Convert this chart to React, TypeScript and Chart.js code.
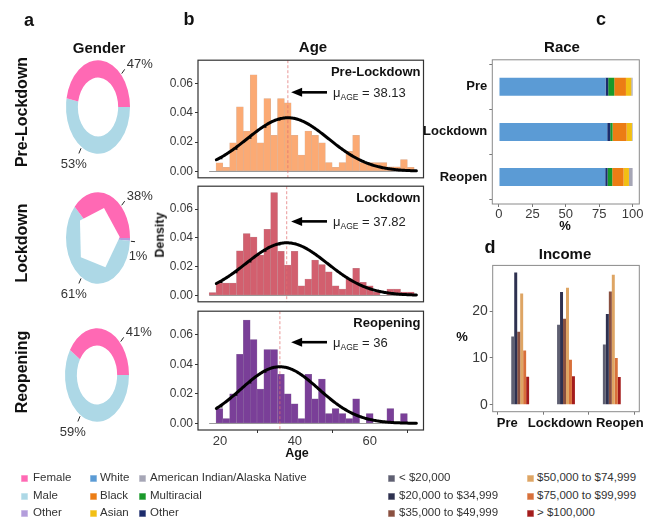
import React, { useEffect, useRef } from 'react';
import { Chart, registerables } from 'chart.js';

Chart.register(...registerables);

const FONT = '"Liberation Sans", Arial, Helvetica, sans-serif';
const TICK_COLOR = '#3a3a3a';

// ---------- Gender (panel a) ----------
// slices are laid clockwise from 3 o'clock in this order
const GENDER_LABELS = ['Other', 'Male', 'Female'];
const GENDER_COLORS = ['#b39ddb', '#add8e6', '#ff69b4'];
const GENDER_PRE = [0, 53, 47];
const GENDER_LOCKDOWN = [1, 61, 38];
const GENDER_REOPEN = [0, 59, 41];
// callout direction for each share (degrees, counter-clockwise from 3 o'clock)
const GENDER_CALLOUT_ANGLE: Record<string, number> = { Female: 44, Male: 239, Other: -4 };

// ---------- Age (panel b) ----------
const AGE_BIN_CENTERS = [
  18.0, 19.83, 21.66, 23.48, 25.31, 27.14, 28.97, 30.79, 32.62, 34.45,
  36.28, 38.1, 39.93, 41.76, 43.59, 45.41, 47.24, 49.07, 50.9, 52.72,
  54.55, 56.38, 58.21, 60.03, 61.86, 63.69, 65.52, 67.34, 69.17, 71.0,
];
const AGE_DENSITY_PRE = [
  0, 0.0057, 0.0026, 0.0195, 0.044, 0.0274, 0.066, 0.0195, 0.0497, 0.0245,
  0.0497, 0.0468, 0.0245, 0.011, 0.0274, 0.0245, 0.0195, 0.006, 0.0026, 0.006,
  0.0136, 0.0245, 0.006, 0.006, 0.006, 0.006, 0.003, 0.003, 0.008, 0.0026,
];
const AGE_DENSITY_LOCKDOWN = [
  0.002, 0.0085, 0.0085, 0.0085, 0.031, 0.043, 0.0405, 0.028, 0.046, 0.0716,
  0.0307, 0.021, 0.0307, 0.0066, 0.0114, 0.0245, 0.0215, 0.0164, 0.0066, 0.0044,
  0.0114, 0.0188, 0.009, 0.0066, 0.0022, 0, 0.0044, 0.0044, 0.0022, 0.0022,
];
const AGE_DENSITY_REOPEN = [
  0, 0.01, 0.0033, 0.02, 0.0467, 0.07, 0.0567, 0.0233, 0.05, 0.05,
  0.0333, 0.02, 0.0133, 0.0033, 0.0333, 0.0167, 0.03, 0.0067, 0.01, 0.0067,
  0.0033, 0.0167, 0, 0.0067, 0, 0, 0.01, 0, 0.0067, 0,
];
const AGE_MEAN_PRE = 38.13;
const AGE_MEAN_LOCKDOWN = 37.82;
const AGE_MEAN_REOPEN = 36;
const AGE_SD_PRE = 10.9;
const AGE_SD_LOCKDOWN = 10.9;
const AGE_SD_REOPEN = 10.4;
const AGE_TICKS = [20, 40, 60];
const DENSITY_TICKS = [0, 0.02, 0.04, 0.06];
const CURVE_FROM = 19;
const CURVE_TO = 72.5;
const ARROW_TAIL_AGE = 48.6;
const ARROW_TIP_AGE = 39;

// ---------- Race (panel c) ----------
const PERIODS = ['Pre', 'Lockdown', 'Reopen'];
const RACE_WHITE = [79.75, 81, 79.5];
const RACE_OTHER = [2, 2.25, 1.75];
const RACE_MULTIRACIAL = [4.5, 1.75, 3.5];
const RACE_BLACK = [8.75, 10.5, 8.5];
const RACE_ASIAN = [4, 4, 4];
const RACE_AIAN = [1, 0.5, 2.75];
const RACE_TICKS = [0, 25, 50, 75, 100];
const RACE_COLORS = {
  white: '#5b9bd5', black: '#ec7d14', asian: '#f2bf14',
  aian: '#a6a6b6', multi: '#19992a', other: '#1c2c6c',
};

// ---------- Income (panel d) ----------
const INCOME_BRACKETS = [
  '< $20,000', '$20,000 to $34,999', '$35,000 to $49,999',
  '$50,000 to $74,999', '$75,000 to $99,999', '> $100,000',
];
const INCOME_COLORS = ['#5f6072', '#2e3150', '#8a5040', '#dea564', '#d8703a', '#a41c1c'];
const INCOME_PRE = [14.6, 28.3, 15.6, 23.8, 11.6, 6.0];
const INCOME_LOCKDOWN = [17.1, 24.1, 18.4, 25.0, 9.6, 6.1];
const INCOME_REOPEN = [12.9, 19.4, 24.2, 27.8, 10.0, 5.9];
const INCOME_TICKS = [0, 10, 20];
// horizontal nudge (px) of each period name under its bar group
const INCOME_LABEL_NUDGE = [-13, -6, 8];

// ---------- helpers ----------
const normalPdf = (x: number, m: number, s: number) =>
  Math.exp(-((x - m) ** 2) / (2 * s * s)) / (s * Math.sqrt(2 * Math.PI));

const fixedTicks = (values: number[]) => (scale: any) => {
  scale.ticks = values.map((value) => ({ value }));
};

function ChartCanvas(props: { left: number; top: number; width: number; height: number; build: () => any }) {
  const ref = useRef<HTMLCanvasElement | null>(null);
  useEffect(() => {
    if (!ref.current) return;
    const chart = new Chart(ref.current, props.build());
    return () => chart.destroy();
  }, []);
  const { left, top, width, height } = props;
  return (
    <canvas
      ref={ref}
      width={width}
      height={height}
      style={{ position: 'absolute', left, top, width, height }}
    />
  );
}

// ---------- doughnut plugins ----------
// stretches the ring vertically; optionally cuts a coarse polygonal hole
const ellipseRing = {
  id: 'ellipseRing',
  beforeDatasetsDraw(chart: any, _a: any, o: any) {
    const arc = chart.getDatasetMeta(0).data[0];
    const ctx = chart.ctx;
    ctx.save();
    ctx.translate(arc.x, arc.y);
    ctx.scale(1, o.stretch);
    ctx.translate(-arc.x, -arc.y);
  },
  afterDatasetsDraw(chart: any, _a: any, o: any) {
    const ctx = chart.ctx;
    if (o.holeSides) {
      const arc = chart.getDatasetMeta(0).data[0];
      const r = arc.outerRadius * o.holeRadius;
      ctx.fillStyle = '#fff';
      ctx.beginPath();
      for (let k = 0; k < o.holeSides; k++) {
        const a = ((o.holeStart + (360 / o.holeSides) * k) * Math.PI) / 180;
        const x = arc.x + Math.cos(a) * r;
        const y = arc.y - Math.sin(a) * r;
        if (k === 0) ctx.moveTo(x, y);
        else ctx.lineTo(x, y);
      }
      ctx.closePath();
      ctx.fill();
    }
    ctx.restore();
  },
};

const genderCallouts = {
  id: 'genderCallouts',
  afterDraw(chart: any, _a: any, o: any) {
    const ctx = chart.ctx;
    const arc = chart.getDatasetMeta(0).data[0];
    const values = chart.data.datasets[0].data as number[];
    const R = arc.outerRadius;
    ctx.save();
    ctx.font = `13px ${FONT}`;
    ctx.fillStyle = '#333';
    ctx.strokeStyle = '#222';
    ctx.lineWidth = 1;
    (chart.data.labels as string[]).forEach((name, i) => {
      const v = values[i];
      if (!v) return;
      const a = (GENDER_CALLOUT_ANGLE[name] * Math.PI) / 180;
      const px = (r: number) => arc.x + Math.cos(a) * R * r;
      const py = (r: number) => arc.y - Math.sin(a) * R * r * o.stretch;
      ctx.beginPath();
      ctx.moveTo(px(1.03), py(1.03));
      ctx.lineTo(px(1.16), py(1.16));
      ctx.stroke();
      const ex = px(1.16);
      const ey = py(1.16);
      const txt = `${v}%`;
      if (name === 'Female') {
        ctx.textAlign = 'left';
        ctx.textBaseline = 'middle';
        ctx.fillText(txt, ex + 2, ey - 5);
      } else if (name === 'Male') {
        ctx.textAlign = 'center';
        ctx.textBaseline = 'top';
        ctx.fillText(txt, ex - 5, ey + 4);
      } else {
        ctx.textAlign = 'center';
        ctx.textBaseline = 'top';
        ctx.fillText(txt, ex + 3, ey + 8);
      }
    });
    ctx.restore();
  },
};

const genderConfig = (values: number[], polygonHole = false) => () => ({
  type: 'doughnut',
  data: {
    labels: GENDER_LABELS,
    datasets: [{ data: values, backgroundColor: GENDER_COLORS, borderWidth: 0 }],
  },
  options: {
    animation: false,
    responsive: false,
    rotation: 90,
    radius: 32,
    cutout: polygonHole ? 0 : '63%',
    layout: { padding: 0 },
    plugins: {
      legend: { display: false },
      tooltip: { enabled: false },
      ellipseRing: polygonHole
        ? { stretch: 1.43, holeSides: 5, holeStart: 2, holeRadius: 0.68 }
        : { stretch: 1.46 },
      genderCallouts: { stretch: polygonHole ? 1.43 : 1.46 },
    },
  },
  plugins: [ellipseRing, genderCallouts],
});

// ---------- histogram plugin ----------
const histDecor = {
  id: 'histDecor',
  beforeDatasetsDraw(chart: any) {
    const ctx = chart.ctx;
    const xs = chart.scales.x;
    const ys = chart.scales.y;
    const half = (AGE_BIN_CENTERS[1] - AGE_BIN_CENTERS[0]) / 2;
    const y0 = Math.round(ys.getPixelForValue(0)) + 0.5;
    ctx.save();
    ctx.strokeStyle = '#9a9a9a';
    ctx.lineWidth = 1;
    ctx.beginPath();
    ctx.moveTo(xs.getPixelForValue(AGE_BIN_CENTERS[0] - half), y0);
    ctx.lineTo(xs.getPixelForValue(AGE_BIN_CENTERS[AGE_BIN_CENTERS.length - 1] + half), y0);
    ctx.stroke();
    ctx.restore();
  },
  beforeDatasetDraw(chart: any, args: any, o: any) {
    if (args.index !== 0) return;
    // dashed mean line sits above the bars, beneath the fitted curve
    const ctx = chart.ctx;
    const ca = chart.chartArea;
    const mx = chart.scales.x.getPixelForValue(o.mean);
    ctx.save();
    ctx.strokeStyle = 'rgba(225, 110, 110, 0.9)';
    ctx.lineWidth = 0.8;
    ctx.setLineDash([3, 2]);
    ctx.beginPath();
    ctx.moveTo(mx, ca.top);
    ctx.lineTo(mx, ca.bottom);
    ctx.stroke();
    ctx.restore();
  },
  afterDraw(chart: any, _a: any, o: any) {
    const ctx = chart.ctx;
    const ca = chart.chartArea;
    const xs = chart.scales.x;
    const ys = chart.scales.y;
    ctx.save();
    ctx.strokeStyle = '#333';
    ctx.lineWidth = 1.2;
    ctx.strokeRect(ca.left, ca.top, ca.right - ca.left, ca.bottom - ca.top);

    ctx.fillStyle = '#111';
    ctx.font = `bold 13px ${FONT}`;
    ctx.textAlign = 'right';
    ctx.textBaseline = 'top';
    ctx.fillText(o.title, ca.right - 3, ca.top + 6);

    const ay = ys.getPixelForValue(o.arrowY);
    const tail = xs.getPixelForValue(ARROW_TAIL_AGE);
    const tip = xs.getPixelForValue(ARROW_TIP_AGE);
    ctx.strokeStyle = '#000';
    ctx.fillStyle = '#000';
    ctx.lineWidth = 2.6;
    ctx.beginPath();
    ctx.moveTo(tail, ay);
    ctx.lineTo(tip + 8, ay);
    ctx.stroke();
    ctx.beginPath();
    ctx.moveTo(tip, ay);
    ctx.lineTo(tip + 11, ay - 4.5);
    ctx.lineTo(tip + 11, ay + 4.5);
    ctx.closePath();
    ctx.fill();

    let tx = tail + 6;
    ctx.fillStyle = '#222';
    ctx.textAlign = 'left';
    ctx.textBaseline = 'alphabetic';
    ctx.font = `13px ${FONT}`;
    ctx.fillText('\u03bc', tx, ay + 4.5);
    tx += ctx.measureText('\u03bc').width;
    ctx.font = `8.5px ${FONT}`;
    ctx.fillText('AGE', tx, ay + 7.5);
    tx += ctx.measureText('AGE').width;
    ctx.font = `13px ${FONT}`;
    ctx.fillText(` = ${o.mean}`, tx, ay + 4.5);
    ctx.restore();
  },
};

type HistSpec = {
  density: number[];
  color: string;
  edge: string;
  mean: number;
  sd: number;
  title: string;
  arrowY: number;
  showX: boolean;
};

const histConfig = (p: HistSpec) => () => {
  const curve: { x: number; y: number }[] = [];
  for (let x = CURVE_FROM; x <= CURVE_TO + 1e-9; x += 0.25) {
    curve.push({ x, y: normalPdf(x, p.mean, p.sd) });
  }
  return {
    type: 'bar',
    data: {
      datasets: [
        {
          type: 'line',
          data: curve,
          borderColor: '#000',
          borderWidth: 3,
          pointRadius: 0,
          tension: 0,
          borderCapStyle: 'round',
        },
        {
          type: 'bar',
          data: AGE_BIN_CENTERS.map((x, i) => ({ x, y: p.density[i] })),
          backgroundColor: p.color,
          borderColor: p.edge,
          borderWidth: 0.5,
          borderSkipped: false,
          barPercentage: 1,
          categoryPercentage: 1,
        },
      ],
    },
    options: {
      animation: false,
      responsive: false,
      layout: { padding: { left: 0, right: 6.5, top: 6, bottom: p.showX ? 0 : 6 } },
      plugins: {
        legend: { display: false },
        tooltip: { enabled: false },
        histDecor: { title: p.title, mean: p.mean, arrowY: p.arrowY },
      },
      scales: {
        x: {
          type: 'linear',
          min: 14.1,
          max: 74.4,
          offset: false,
          grid: { display: p.showX, drawOnChartArea: false, tickLength: 3, color: '#333' },
          border: { display: false },
          ticks: { display: p.showX, color: TICK_COLOR, font: { family: FONT, size: 13 }, padding: 1 },
          afterBuildTicks: fixedTicks(AGE_TICKS),
          afterFit: (s: any) => { s.height = p.showX ? 22 : 0; },
        },
        y: {
          type: 'linear',
          min: -0.0045,
          max: 0.076,
          grid: { drawOnChartArea: false, tickLength: 3, color: '#333' },
          border: { display: false },
          ticks: {
            color: TICK_COLOR,
            font: { family: FONT, size: 12 },
            padding: 2,
            callback: (v: any) => Number(v).toFixed(2),
          },
          afterBuildTicks: fixedTicks(DENSITY_TICKS),
          afterFit: (s: any) => { s.width = 48; },
        },
      },
    },
    plugins: [histDecor],
  };
};

// ---------- frame for panels c and d ----------
const grayFrame = {
  id: 'grayFrame',
  afterDraw(chart: any, _a: any, o: any) {
    const ctx = chart.ctx;
    const ca = chart.chartArea;
    ctx.save();
    ctx.strokeStyle = '#8a8a8a';
    ctx.lineWidth = 1;
    ctx.strokeRect(ca.left, ca.top, ca.right - ca.left, ca.bottom - ca.top);
    if (o.periodLabels) {
      // period names under the income groups
      const xs = chart.scales.x;
      ctx.fillStyle = '#111';
      ctx.font = `bold 13px ${FONT}`;
      ctx.textAlign = 'center';
      ctx.textBaseline = 'top';
      PERIODS.forEach((name, i) => {
        ctx.fillText(name, xs.getPixelForValue(i + 1) + INCOME_LABEL_NUDGE[i], ca.bottom + 5);
      });
    }
    ctx.restore();
  },
};

const raceConfig = () => {
  const series = [
    { label: 'White', values: RACE_WHITE, color: RACE_COLORS.white },
    { label: 'Other', values: RACE_OTHER, color: RACE_COLORS.other },
    { label: 'Multiracial', values: RACE_MULTIRACIAL, color: RACE_COLORS.multi },
    { label: 'Black', values: RACE_BLACK, color: RACE_COLORS.black },
    { label: 'Asian', values: RACE_ASIAN, color: RACE_COLORS.asian },
    { label: 'American Indian/Alaska Native', values: RACE_AIAN, color: RACE_COLORS.aian },
  ];
  return {
    type: 'bar',
    data: {
      datasets: series.map((s) => ({
        label: s.label,
        data: s.values.map((v, i) => ({ x: v, y: i + 1 })),
        backgroundColor: s.color,
        borderWidth: 0,
        categoryPercentage: 0.4,
        barPercentage: 1,
      })),
    },
    options: {
      animation: false,
      responsive: false,
      indexAxis: 'y',
      layout: { padding: { left: 0, right: 5.7, top: 9, bottom: 0 } },
      plugins: { legend: { display: false }, tooltip: { enabled: false }, grayFrame: {} },
      scales: {
        x: {
          type: 'linear',
          stacked: true,
          min: -5,
          max: 105,
          grid: { drawOnChartArea: false, tickLength: 3, color: '#777' },
          border: { display: false },
          ticks: { color: TICK_COLOR, font: { family: FONT, size: 13 }, padding: 0 },
          afterBuildTicks: fixedTicks(RACE_TICKS),
          afterFit: (s: any) => { s.height = 26; },
        },
        y: {
          type: 'linear',
          stacked: true,
          reverse: true,
          min: 0.4,
          max: 3.6,
          offset: false,
          grid: { drawOnChartArea: false, tickLength: 3, color: '#777' },
          border: { display: false },
          ticks: {
            color: '#111',
            font: { family: FONT, size: 13, weight: 'bold' },
            padding: 2,
            callback: (v: any) => PERIODS[Number(v) - 1],
          },
          afterBuildTicks: fixedTicks([1, 2, 3]),
          afterFit: (s: any) => { s.width = 77.3; },
        },
      },
    },
    plugins: [grayFrame],
  };
};

const incomeConfig = () => {
  const periods = [INCOME_PRE, INCOME_LOCKDOWN, INCOME_REOPEN];
  return {
    type: 'bar',
    data: {
      datasets: INCOME_BRACKETS.map((label, b) => ({
        label,
        data: periods.map((row, i) => ({ x: i + 1, y: row[b] })),
        backgroundColor: INCOME_COLORS[b],
        borderWidth: 0,
        categoryPercentage: 0.39,
        barPercentage: 1,
      })),
    },
    options: {
      animation: false,
      responsive: false,
      layout: { padding: { left: 0, right: 5.7, top: 9.3, bottom: 0 } },
      plugins: { legend: { display: false }, tooltip: { enabled: false }, grayFrame: { periodLabels: true } },
      scales: {
        x: {
          type: 'linear',
          min: 0.4,
          max: 3.6,
          offset: false,
          grid: { drawOnChartArea: false, tickLength: 3, color: '#777' },
          border: { display: false },
          ticks: { display: false },
          afterBuildTicks: fixedTicks([1, 2, 3]),
          afterFit: (s: any) => { s.height = 23.3; },
        },
        y: {
          type: 'linear',
          min: -1.5,
          max: 29.8,
          grid: { drawOnChartArea: false, tickLength: 3, color: '#777' },
          border: { display: false },
          ticks: { color: TICK_COLOR, font: { family: FONT, size: 14 }, padding: 2 },
          afterBuildTicks: fixedTicks(INCOME_TICKS),
          afterFit: (s: any) => { s.width = 52.7; },
        },
      },
    },
    plugins: [grayFrame],
  };
};

// ---------- HTML text ----------
function Txt(p: {
  x: number; y: number; text: string; size: number; bold?: boolean;
  align?: 'left' | 'center' | 'right'; rotate?: number; color?: string;
}) {
  const tx = p.align === 'left' ? '0' : p.align === 'right' ? '-100%' : '-50%';
  return (
    <div
      style={{
        position: 'absolute',
        left: p.x,
        top: p.y,
        transform: `translate(${tx}, -50%) rotate(${p.rotate || 0}deg)`,
        font: `${p.bold ? 'bold ' : ''}${p.size}px ${FONT}`,
        color: p.color || '#111',
        whiteSpace: 'nowrap',
        lineHeight: 1,
      }}
    >
      {p.text}
    </div>
  );
}

function LegendColumn(p: { sx: number; tx: number; items: { label: string; color: string }[] }) {
  const rows = [478, 496, 513];
  return (
    <>
      {p.items.map((it, i) => (
        <React.Fragment key={it.label + i}>
          <div
            style={{
              position: 'absolute', left: p.sx, top: rows[i] - 3.5, width: 7, height: 7,
              background: it.color, boxShadow: '0 0 0 0.5px rgba(255,255,255,0.6) inset',
            }}
          />
          <Txt x={p.tx} y={rows[i]} text={it.label} size={11.5} align="left" color="#333" />
        </React.Fragment>
      ))}
    </>
  );
}

export default function App() {
  return (
    <div
      style={{
        position: 'fixed', left: 0, top: 0, width: 648, height: 523,
        background: '#fff', overflow: 'hidden', fontFamily: FONT,
      }}
    >
      {/* panel a: gender rings */}
      <ChartCanvas left={18} top={27} width={160} height={160} build={genderConfig(GENDER_PRE)} />
      <ChartCanvas left={18} top={158} width={160} height={160} build={genderConfig(GENDER_LOCKDOWN, true)} />
      <ChartCanvas left={17} top={295} width={160} height={160} build={genderConfig(GENDER_REOPEN)} />

      {/* panel b: age histograms */}
      <ChartCanvas
        left={150} top={51} width={280} height={136}
        build={histConfig({
          density: AGE_DENSITY_PRE, color: '#fbaa74', edge: '#d9b197', mean: AGE_MEAN_PRE, sd: AGE_SD_PRE,
          title: 'Pre-Lockdown', arrowY: 0.054, showX: false,
        })}
      />
      <ChartCanvas
        left={150} top={177} width={280} height={134}
        build={histConfig({
          density: AGE_DENSITY_LOCKDOWN, color: '#d25f6e', edge: '#c08890', mean: AGE_MEAN_LOCKDOWN, sd: AGE_SD_LOCKDOWN,
          title: 'Lockdown', arrowY: 0.0515, showX: false,
        })}
      />
      <ChartCanvas
        left={150} top={302} width={280} height={150}
        build={histConfig({
          density: AGE_DENSITY_REOPEN, color: '#7a3f98', edge: '#8f6fa2', mean: AGE_MEAN_REOPEN, sd: AGE_SD_REOPEN,
          title: 'Reopening', arrowY: 0.055, showX: true,
        })}
      />

      {/* panel c: race */}
      <ChartCanvas left={415} top={50} width={230} height={180} build={raceConfig} />
      {/* panel d: income */}
      <ChartCanvas left={440} top={255} width={205} height={180} build={incomeConfig} />

      {/* panel letters and titles */}
      <Txt x={29} y={20} text="a" size={18} bold />
      <Txt x={189} y={19} text="b" size={18} bold />
      <Txt x={601} y={19} text="c" size={18} bold />
      <Txt x={490} y={247} text="d" size={18} bold />
      <Txt x={99} y={47} text="Gender" size={15} bold />
      <Txt x={313} y={46} text="Age" size={15} bold />
      <Txt x={562} y={46} text="Race" size={15} bold />
      <Txt x={565} y={253} text="Income" size={15} bold />

      <Txt x={22} y={112} text="Pre-Lockdown" size={16} bold rotate={-90} />
      <Txt x={22} y={243} text="Lockdown" size={16} bold rotate={-90} />
      <Txt x={22} y={372} text="Reopening" size={16} bold rotate={-90} />

      <Txt x={160} y={235} text="Density" size={12.5} bold rotate={-90} />
      <Txt x={297} y={453} text="Age" size={12.5} bold />
      <Txt x={565} y={225} text="%" size={13} bold />
      <Txt x={462} y={336} text="%" size={13} bold />

      {/* legends */}
      <LegendColumn
        sx={21} tx={33}
        items={[
          { label: 'Female', color: GENDER_COLORS[2] },
          { label: 'Male', color: GENDER_COLORS[1] },
          { label: 'Other', color: GENDER_COLORS[0] },
        ]}
      />
      <LegendColumn
        sx={90} tx={100}
        items={[
          { label: 'White', color: RACE_COLORS.white },
          { label: 'Black', color: RACE_COLORS.black },
          { label: 'Asian', color: RACE_COLORS.asian },
        ]}
      />
      <LegendColumn
        sx={139} tx={150}
        items={[
          { label: 'American Indian/Alaska Native', color: RACE_COLORS.aian },
          { label: 'Multiracial', color: RACE_COLORS.multi },
          { label: 'Other', color: RACE_COLORS.other },
        ]}
      />
      <LegendColumn
        sx={388} tx={399}
        items={INCOME_BRACKETS.slice(0, 3).map((label, i) => ({ label, color: INCOME_COLORS[i] }))}
      />
      <LegendColumn
        sx={527} tx={537}
        items={INCOME_BRACKETS.slice(3).map((label, i) => ({ label, color: INCOME_COLORS[i + 3] }))}
      />
    </div>
  );
}
